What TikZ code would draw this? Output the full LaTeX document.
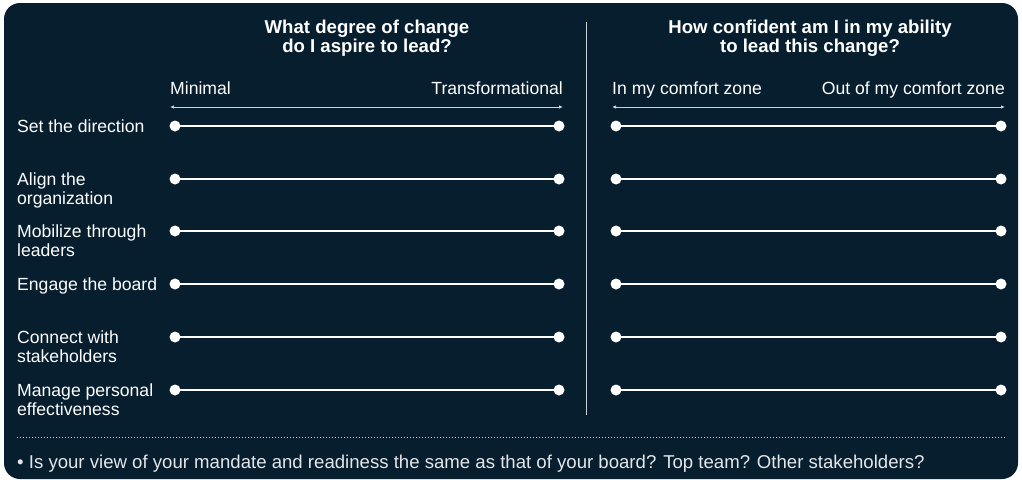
\documentclass[tikz,border=0pt]{standalone}
\usepackage{fontspec}
\setmainfont{Liberation Sans}
\usetikzlibrary{arrows.meta}
\definecolor{navy}{RGB}{7,30,46}
\definecolor{rulegray}{RGB}{205,210,214}
\definecolor{notegray}{RGB}{228,231,234}
\begin{document}
\begin{tikzpicture}[x=1pt,y=-1pt,
  txt/.style={text=white,font=\fontsize{17.6}{19.5}\selectfont,inner sep=0pt},
  head/.style={text=white,font=\bfseries\fontsize{18.6}{19.5}\selectfont,inner sep=0pt,align=center},
  rowlbl/.style={txt,anchor=base west,align=left},
  dot/.style={circle,fill=white,minimum size=11pt,inner sep=0pt},
  bar/.style={white,line width=2.6pt},
  scale arrow/.style={rulegray,line width=0.8pt,{Latex[length=4pt,width=3.5pt]}-{Latex[length=4pt,width=3.5pt]}}]
\useasboundingbox (0,0) rectangle (1022,482);
\fill[white] (0,0) rectangle (1022,482);
\fill[navy,rounded corners=16pt] (4,3) rectangle (1018,479);

% column headings (base anchor sits on the last line)
\node[head,anchor=base] (hl) at (367,52.5) {What degree of change\\do I aspire to lead?};
\node[head,anchor=base] (hr) at (810,52.5) {How confident am I in my ability\\to lead this change?};

% divider
\coordinate (dvt) at (586,22);
\coordinate (dvb) at (586,415);
\draw[rulegray,line width=0.9pt] (dvt) -- (dvb);

% scale ends
\node[txt,anchor=base west] (minl) at (170,94) {Minimal};
\node[txt,anchor=base east] (trl) at (563,94) {Transformational};
\node[txt,anchor=base west] (inz) at (612,94) {In my comfort zone};
\node[txt,anchor=base east] (outz) at (1005,94) {Out of my comfort zone};
\coordinate (la) at (170,107);
\coordinate (lb) at (563,107);
\coordinate (ra) at (612,107);
\coordinate (rb) at (1005,107);
\draw[scale arrow] (la) -- (lb);
\draw[scale arrow] (ra) -- (rb);

% rows: index / centre line / extra label lines / label
\foreach \i/\y/\n/\lbl in {1/126/0/{Set the direction},
                           2/179/1/{Align the\\organization},
                           3/231/1/{Mobilize through\\leaders},
                           4/284/0/{Engage the board},
                           5/337/1/{Connect with\\stakeholders},
                           6/390/1/{Manage personal\\effectiveness}}{
  \node[rowlbl] (lab\i) at (17,\y+6+19.5*\n) {\lbl};
  \node[dot] (a\i) at (175,\y) {};
  \node[dot] (b\i) at (559,\y) {};
  \node[dot] (c\i) at (616,\y) {};
  \node[dot] (d\i) at (1001,\y) {};
  \draw[bar] (a\i.center) -- (b\i.center);
  \draw[bar] (c\i.center) -- (d\i.center);
}

% dotted separator
\coordinate (sl) at (17,437);
\coordinate (sr) at (1005,437);
\draw[rulegray,line width=0.8pt,dash pattern=on 0.8pt off 2.2pt] (sl) -- (sr);

% footnote
\node[txt,text=notegray,anchor=base west,font=\fontsize{18.6}{20}\selectfont] (note) at (17,468) {• Is your view of your mandate and readiness the same as that of your board? Top team? Other stakeholders?};
\end{tikzpicture}
\end{document}
